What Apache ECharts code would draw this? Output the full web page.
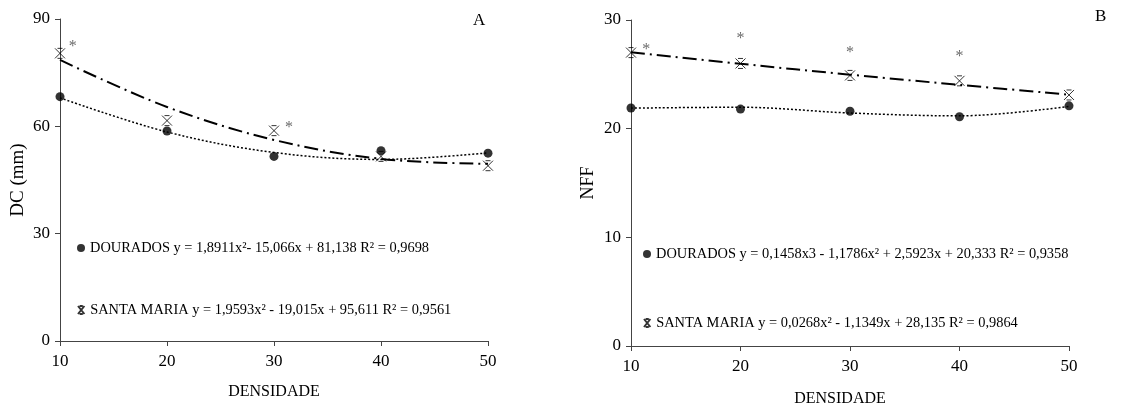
<!DOCTYPE html>
<html>
<head>
<meta charset="utf-8">
<script src="https://cdn.jsdelivr.net/npm/echarts@6/dist/echarts.min.js"></script>
<style>
html,body{margin:0;padding:0;background:#fff;}
#c{width:1129px;height:412px;}
</style>
</head>
<body>
<div id="c"></div>
<script>
// ---- data ----
const densidade = [10, 20, 30, 40, 50];
const dcDourados = [68.3, 58.7, 51.6, 53.2, 52.5];
const dcSantaMaria = [80.4, 61.6, 58.8, 51.6, 49.0];
const dcTrendDourados = [67.96, 58.43, 52.69, 50.74, 52.58];
const dcTrendSantaMaria = [78.55, 65.41, 56.20, 50.90, 49.51];
const dcStars = [[11.2, 82.3], [31.4, 59.6]];
const nffDourados = [21.9, 21.8, 21.6, 21.1, 22.1];
const nffSantaMaria = [27.0, 26.0, 24.9, 24.4, 23.1];
const nffTrendDourados = [21.89, 21.97, 21.44, 21.18, 22.05];
const nffTrendSantaMaria = [27.03, 25.97, 24.97, 24.03, 23.13];
const nffStars = [[11.4, 27.3], [20, 28.25], [30, 27.0], [40, 26.6]];
const dcEqDourados = 'y = 1,8911x²- 15,066x + 81,138 R² = 0,9698';
const dcEqSantaMaria = 'y = 1,9593x² - 19,015x + 95,611 R² = 0,9561';
const nffEqDourados = 'y = 0,1458x3 - 1,1786x² + 2,5923x + 20,333 R² = 0,9358';
const nffEqSantaMaria = 'y = 0,0268x² - 1,1349x + 28,135 R² = 0,9864';
const yTicksDC = [0, 90, 30];
const yTicksNFF = [0, 30, 10];

const FONT = 'Liberation Serif';
const starPath = 'path://M3,0L7,0M3,10L7,10M1,0L9,10M9,0L1,10';
const pair = (xs, ys) => xs.map((x, i) => [x, ys[i]]);

function xAxis(gi, gap, pad) {
  return {
    type: 'value', gridIndex: gi, min: 10, max: 50, interval: 10,
    name: 'DENSIDADE', nameLocation: 'middle', nameGap: gap,
    nameTextStyle: {fontFamily: FONT, fontSize: 16, color: '#000', padding: pad},
    axisLine: {lineStyle: {color: '#444', width: 1}},
    axisTick: {show: true, length: 5, lineStyle: {color: '#444'}},
    axisLabel: {fontFamily: FONT, fontSize: 17, color: '#000', margin: 12},
    splitLine: {show: false}
  };
}
function yAxis(gi, t, name, gap, size) {
  return {
    type: 'value', gridIndex: gi, min: t[0], max: t[1], interval: t[2],
    name: name, nameLocation: 'middle', nameGap: gap,
    nameTextStyle: {fontFamily: FONT, fontSize: size, color: '#000'},
    axisLine: {show: true, lineStyle: {color: '#444', width: 1}},
    axisTick: {show: true, length: 5, lineStyle: {color: '#444'}},
    axisLabel: {fontFamily: FONT, fontSize: 17, color: '#000', margin: 10},
    splitLine: {show: false}
  };
}
function marks(name, gi, data, sym, size) {
  return {
    name: name, type: 'scatter', xAxisIndex: gi, yAxisIndex: gi,
    data: data, symbol: sym, symbolSize: size,
    itemStyle: sym === 'circle' ? {color: '#000'} : {color: 'rgba(0,0,0,0)', borderColor: '#000', borderWidth: 1},
    z: 5
  };
}
function trend(gi, data, type, width) {
  return {
    type: 'line', xAxisIndex: gi, yAxisIndex: gi, data: data, smooth: 0.35,
    symbol: 'none', lineStyle: {color: '#000', width: width, type: type}, z: 3, silent: true
  };
}
function stars(gi, data) {
  return {
    type: 'scatter', xAxisIndex: gi, yAxisIndex: gi, data: data, symbolSize: 1,
    itemStyle: {color: 'rgba(0,0,0,0)'},
    label: {show: true, position: 'inside', formatter: '*', fontFamily: FONT, fontSize: 16, color: '#444'}
  };
}
function legend(name, icon, left, top, text) {
  return {
    data: [{name: name, icon: icon}], left: left, top: top, padding: 0,
    itemWidth: 8, itemHeight: 8, selectedMode: false,
    formatter: n => n + ' ' + text,
    textStyle: {fontFamily: FONT, fontSize: 14.4, color: '#000'}
  };
}

const chart = echarts.init(document.getElementById('c'), null, {renderer: 'canvas'});
chart.setOption({
  animation: false,
  backgroundColor: '#fff',
  grid: [
    {left: 60, right: 641, top: 19, bottom: 71},
    {left: 631, right: 60, top: 20, bottom: 65}
  ],
  xAxis: [xAxis(0, 43, [0, 0, 0, 0]), xAxis(1, 45, [0, 20, 0, 0])],
  yAxis: [yAxis(0, yTicksDC, 'DC (mm)', 32, 19), yAxis(1, yTicksNFF, 'NFF', 34, 18)],
  legend: [
    legend('DOURADOS', 'circle', 77, 241, dcEqDourados),
    legend('SANTA MARIA', starPath, 77, 303, dcEqSantaMaria),
    legend('DOURADOS', 'circle', 643, 247, nffEqDourados),
    legend('SANTA MARIA', starPath, 643, 316, nffEqSantaMaria)
  ],
  graphic: [
    {type: 'text', left: 473, top: 12, style: {text: 'A', font: '17px "Liberation Serif"', fill: '#000'}},
    {type: 'text', left: 1095, top: 8, style: {text: 'B', font: '17px "Liberation Serif"', fill: '#000'}}
  ],
  series: [
    trend(0, pair(densidade, dcTrendDourados), [2, 2], 1.5),
    trend(0, pair(densidade, dcTrendSantaMaria), [14, 5, 2, 5], 2),
    marks('DOURADOS', 0, pair(densidade, dcDourados), 'circle', 9),
    marks('SANTA MARIA', 0, pair(densidade, dcSantaMaria), starPath, 10),
    stars(0, dcStars),
    trend(1, pair(densidade, nffTrendDourados), [2, 2], 1.5),
    trend(1, pair(densidade, nffTrendSantaMaria), [14, 5, 2, 5], 2),
    marks('DOURADOS', 1, pair(densidade, nffDourados), 'circle', 9),
    marks('SANTA MARIA', 1, pair(densidade, nffSantaMaria), starPath, 10),
    stars(1, nffStars)
  ]
});
</script>
</body>
</html>
